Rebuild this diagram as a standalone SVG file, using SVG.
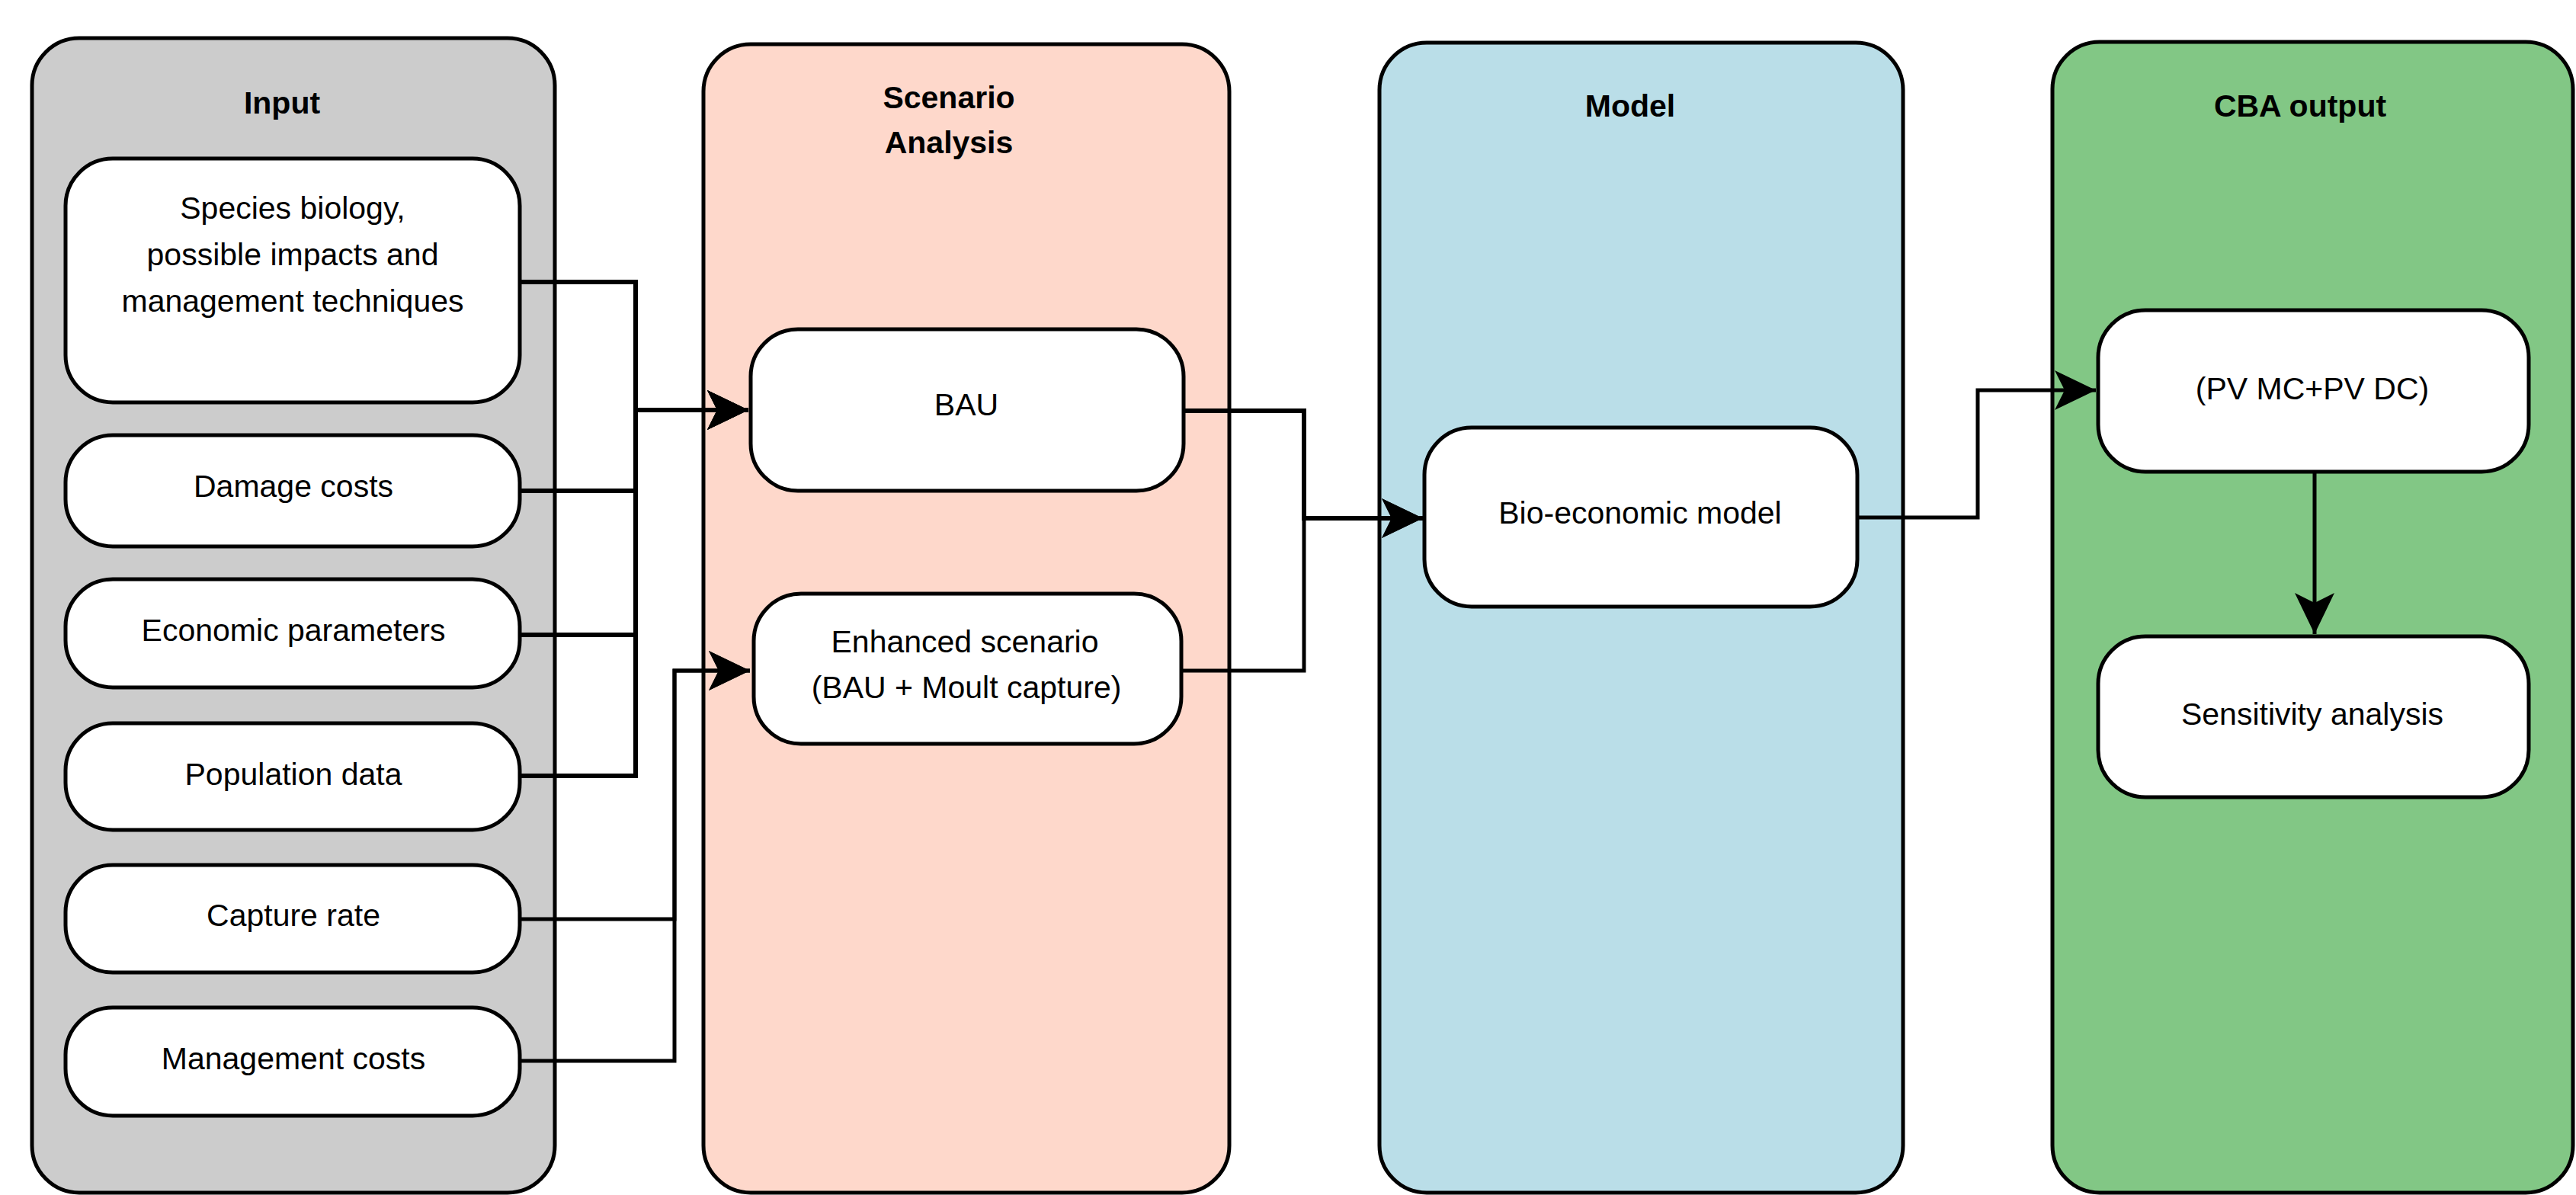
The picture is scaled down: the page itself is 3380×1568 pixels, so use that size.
<svg xmlns="http://www.w3.org/2000/svg" width="3380" height="1568" viewBox="0 0 3380 1568">
<style>
.lane{stroke:#000;stroke-width:5}
.node{fill:#fff;stroke:#000;stroke-width:5}
.t{font-family:"Liberation Sans",Arial,sans-serif;font-size:41px;fill:#000;text-anchor:middle}
.b{font-weight:bold}
.c{fill:none;stroke:#000;stroke-width:5;stroke-linejoin:miter}
.c6{stroke-width:6}
</style>
<defs>
<marker id="arr" viewBox="-56 -28 58 56" refX="0" refY="0" markerWidth="58" markerHeight="56" markerUnits="userSpaceOnUse" orient="auto">
<path d="M0,0 L-54,-26 L-41,0 L-54,26 Z" fill="#000"/>
</marker>
</defs>
<rect width="3380" height="1568" fill="#fff"/>

<g id="lane-input">
<rect class="lane" x="42" y="50" width="686" height="1515" rx="62" fill="#cccccc"/>
<text class="t b" x="370" y="149">Input</text>
</g>
<g id="lane-scenario">
<rect class="lane" x="923" y="58" width="690" height="1507" rx="62" fill="#fed8cb"/>
<text class="t b" x="1245" y="142">Scenario</text>
<text class="t b" x="1245" y="201">Analysis</text>
</g>
<g id="lane-model">
<rect class="lane" x="1810" y="56" width="687" height="1509" rx="62" fill="#badee8"/>
<text class="t b" x="2139" y="153">Model</text>
</g>
<g id="lane-cba">
<rect class="lane" x="2693" y="55" width="683" height="1510" rx="62" fill="#82c785"/>
<text class="t b" x="3018" y="153">CBA output</text>
</g>

<g id="connectors">
<path class="c c6" d="M682,370 H834 V538 H982" marker-end="url(#arr)"/>
<path class="c c6" d="M682,644 H834 V538 H982" marker-end="url(#arr)"/>
<path class="c c6" d="M682,833 H834 V538 H982" marker-end="url(#arr)"/>
<path class="c c6" d="M682,1018 H834 V538 H982" marker-end="url(#arr)"/>
<path class="c" d="M682,1206 H885 V880 H984" marker-end="url(#arr)"/>
<path class="c" d="M682,1392 H885 V880 H984" marker-end="url(#arr)"/>
<path class="c c6" d="M1553,539 H1711 V680 H1867" marker-end="url(#arr)"/>
<path class="c" d="M1550,880 H1711 V680 H1867" marker-end="url(#arr)"/>
<path class="c" d="M2437,679 H2595 V512 H2750" marker-end="url(#arr)"/>
<path class="c" d="M3037,619 V832" marker-end="url(#arr)"/>
</g>

<g id="n-species">
<rect class="node" x="86" y="208" width="596" height="320" rx="62"/>
<text class="t" x="384" y="287">Species biology,</text>
<text class="t" x="384" y="348">possible impacts and</text>
<text class="t" x="384" y="409">management techniques</text>
</g>
<g id="n-damage">
<rect class="node" x="86" y="571" width="596" height="146" rx="62"/>
<text class="t" x="385" y="652">Damage costs</text>
</g>
<g id="n-economic">
<rect class="node" x="86" y="760" width="596" height="142" rx="62"/>
<text class="t" x="385" y="841">Economic parameters</text>
</g>
<g id="n-population">
<rect class="node" x="86" y="949" width="596" height="140" rx="62"/>
<text class="t" x="385" y="1030">Population data</text>
</g>
<g id="n-capture">
<rect class="node" x="86" y="1135" width="596" height="141" rx="62"/>
<text class="t" x="385" y="1215">Capture rate</text>
</g>
<g id="n-management">
<rect class="node" x="86" y="1322" width="596" height="142" rx="62"/>
<text class="t" x="385" y="1403">Management costs</text>
</g>
<g id="n-bau">
<rect class="node" x="985" y="432" width="568" height="212" rx="62"/>
<text class="t" x="1268" y="545">BAU</text>
</g>
<g id="n-enhanced">
<rect class="node" x="989" y="779" width="561" height="197" rx="62"/>
<text class="t" x="1266" y="856">Enhanced scenario</text>
<text class="t" x="1268" y="916">(BAU + Moult capture)</text>
</g>
<g id="n-bio">
<rect class="node" x="1869" y="561" width="568" height="235" rx="62"/>
<text class="t" x="2152" y="687">Bio-economic model</text>
</g>
<g id="n-pv">
<rect class="node" x="2753" y="407" width="565" height="212" rx="62"/>
<text class="t" x="3034" y="524">(PV MC+PV DC)</text>
</g>
<g id="n-sensitivity">
<rect class="node" x="2753" y="835" width="565" height="211" rx="62"/>
<text class="t" x="3034" y="951">Sensitivity analysis</text>
</g>
</svg>
